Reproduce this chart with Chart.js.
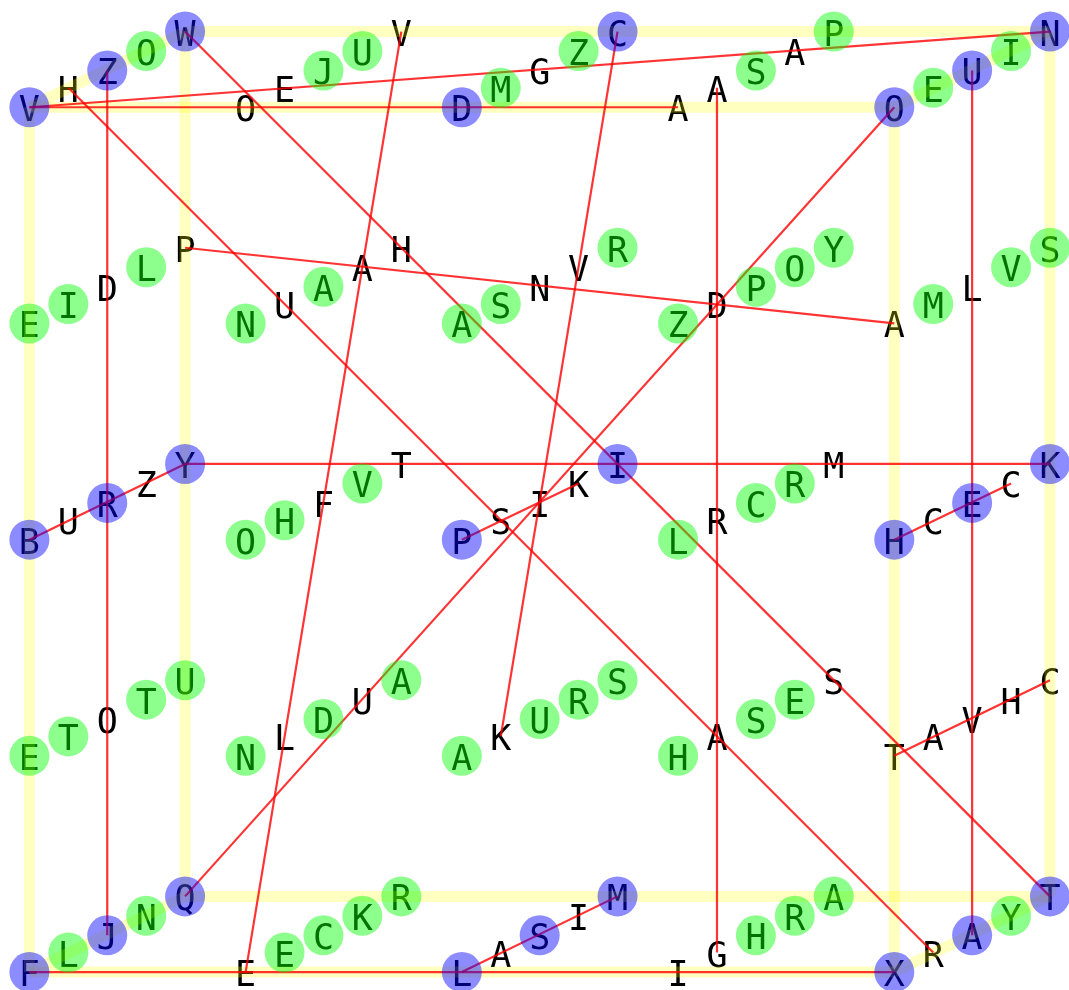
<!DOCTYPE html>
<html>
<head>
<meta charset="utf-8">
<script src="https://cdn.jsdelivr.net/npm/chart.js@4/dist/chart.umd.min.js"></script>
<style>
  html, body { margin: 0; padding: 0; background: #fff; }
  #wrap { width: 1069px; height: 990px; }
</style>
</head>
<body>
<div id="wrap"><canvas id="cube"></canvas></div>
<script>
// ===== DATA (front face spans 0..4 on both axes) =====
const blueLabels = ['V','Z','W','B','R','Y','F','J','Q','D','C','P','I','L','S','M','O','U','N','H','E','K','X','A','T'];
const blueX = [0,0.36,0.72,0,0.36,0.72,0,0.36,0.72,2,2.72,2,2.72,2,2.36,2.72,4,4.36,4.72,4,4.36,4.72,4,4.36,4.72];
const blueY = [4,4.17,4.35,2,2.17,2.35,0,0.17,0.35,4,4.35,2,2.35,0,0.17,0.35,4,4.17,4.35,2,2.17,2.35,0,0.17,0.35];

const greenLabels = ['O','E','I','L','E','T','T','U','L','N',
                     'J','U','N','A','O','H','V','N','D','A',
                     'E','C','K','R','M','Z','A','S','R','A',
                     'U','R','S','S','P','Z','P','O','Y','L',
                     'C','R','H','S','E','H','R','A','E','I',
                     'M','V','S','Y'];
const greenX = [0.54,0,0.18,0.54,0,0.18,0.54,0.72,0.18,0.54,
                1.36,1.54,1,1.36,1,1.18,1.54,1,1.36,1.72,
                1.18,1.36,1.54,1.72,2.18,2.54,2,2.18,2.72,2,
                2.36,2.54,2.72,3.36,3.72,3,3.36,3.54,3.72,3,
                3.36,3.54,3,3.36,3.54,3.36,3.54,3.72,4.18,4.54,
                4.18,4.54,4.72,4.54];
const greenY = [4.26,3,3.09,3.26,1,1.09,1.26,1.35,0.09,0.26,
                4.17,4.26,3,3.17,2,2.09,2.26,1,1.17,1.35,
                0.09,0.17,0.26,0.35,4.09,4.26,3,3.09,3.35,1,
                1.17,1.26,1.35,4.17,4.35,3,3.17,3.26,3.35,2,
                2.17,2.26,1,1.17,1.26,0.17,0.26,0.35,4.09,4.26,
                3.09,3.26,3.35,0.26];

const textLabels = ['H','D','P','U','Z','O','O','E','V','U',
                    'A','H','F','T','L','U','E','G','N','V',
                    'S','I','K','K','A','I','A','A','A','D',
                    'R','M','A','S','I','G','A','L','C','C',
                    'T','A','V','H','C','R'];
const textX = [0.18,0.36,0.72,0.18,0.54,0.36,1,1.18,1.72,1.18,
               1.54,1.72,1.36,1.72,1.18,1.54,1,2.36,2.36,2.54,
               2.18,2.36,2.54,2.18,2.18,2.54,3,3.18,3.54,3.18,
               3.18,3.72,3.18,3.72,3,3.18,4,4.36,4.18,4.54,
               4,4.18,4.36,4.54,4.72,4.18];
const textY = [4.09,3.17,3.35,2.09,2.26,1.17,4,4.09,4.35,3.09,
               3.26,3.35,2.17,2.35,1.09,1.26,0,4.17,3.17,3.26,
               2.09,2.17,2.26,1.09,0.09,0.26,4,4.09,4.26,3.09,
               2.09,2.35,1.09,1.35,0,0.09,3,3.17,2.09,2.26,
               1,1.09,1.17,1.26,1.35,0.09];

// cube edges [x1, y1, x2, y2]
const cubeEdges = [
  [0,4,4,4],[4,4,4,0],[4,0,0,0],[0,0,0,4],
  [0.72,4.35,4.72,4.35],[4.72,4.35,4.72,0.35],[4.72,0.35,0.72,0.35],[0.72,0.35,0.72,4.35],
  [0,4,0.72,4.35],[4,4,4.72,4.35],[4,0,4.72,0.35],[0,0,0.72,0.35]
];

// red connections [x1, y1, x2, y2]
const redLines = [
  [0,4,4.72,4.35],[0,4,3,4],[0.18,4.09,4.18,0.09],[0.72,4.35,4.72,0.35],
  [0.36,4.17,0.36,0.17],[0.72,3.35,4,3],[1.72,4.35,1,0],[2.72,4.35,2.18,1.09],
  [4,4,0.72,0.35],[3.18,4.09,3.18,0.09],[4.36,4.17,4.36,0.17],[0,2,0.72,2.35],
  [0.72,2.35,4.72,2.35],[2,2,2.54,2.26],[4,2,4.54,2.26],[2,0,2.72,0.35],
  [0,0,4,0],[4,1,4.72,1.35]
];

const xMin = -0.136, xMax = 4.808;
const yMin = -0.083, yMax = 4.496;

// ===== LETTERS (drawn under everything else) =====
const letterPlugin = {
  id: 'letters',
  beforeDatasetsDraw(chart) {
    const ctx = chart.ctx, sx = chart.scales.x, sy = chart.scales.y;
    ctx.save();
    ctx.font = '35px "DejaVu Sans Mono"';
    ctx.fillStyle = '#000';
    ctx.textAlign = 'center';
    ctx.textBaseline = 'alphabetic';
    const put = (labels, xs, ys) => labels.forEach((t, i) => {
      ctx.fillText(t, sx.getPixelForValue(xs[i]), sy.getPixelForValue(ys[i]) + 14);
    });
    put(textLabels, textX, textY);
    put(greenLabels, greenX, greenY);
    put(blueLabels, blueX, blueY);
    ctx.restore();
  }
};

// ===== DATASETS =====
const segSet = (seg, color, width, order) => ({
  data: [{x: seg[0], y: seg[1]}, {x: seg[2], y: seg[3]}],
  showLine: true, borderColor: color, borderWidth: width,
  pointRadius: 0, pointHoverRadius: 0, fill: false, order: order
});
const dotSet = (xs, ys, color, order) => ({
  data: xs.map((x, i) => ({x: x, y: ys[i]})),
  showLine: false, pointRadius: 20, pointHoverRadius: 20,
  backgroundColor: color, pointBackgroundColor: color,
  borderWidth: 0, pointBorderWidth: 0, borderColor: 'rgba(0,0,0,0)', order: order
});

const datasets = [];
cubeEdges.forEach(e => datasets.push(segSet(e, 'rgba(255,255,0,0.25)', 11, 30)));
redLines.forEach(e => datasets.push(segSet(e, 'rgba(255,0,0,0.8)', 2.2, 20)));
datasets.push(dotSet(greenX, greenY, 'rgba(0,255,0,0.45)', 2));
datasets.push(dotSet(blueX, blueY, 'rgba(0,0,255,0.45)', 1));

new Chart(document.getElementById('cube').getContext('2d'), {
  type: 'scatter',
  data: { datasets: datasets },
  options: {
    responsive: true, maintainAspectRatio: false, animation: false,
    layout: { padding: 0, autoPadding: false },
    plugins: { legend: { display: false }, tooltip: { enabled: false } },
    events: [],
    scales: {
      x: { type: 'linear', min: xMin, max: xMax, display: false },
      y: { type: 'linear', min: yMin, max: yMax, display: false }
    }
  },
  plugins: [letterPlugin]
});
</script>
</body>
</html>
